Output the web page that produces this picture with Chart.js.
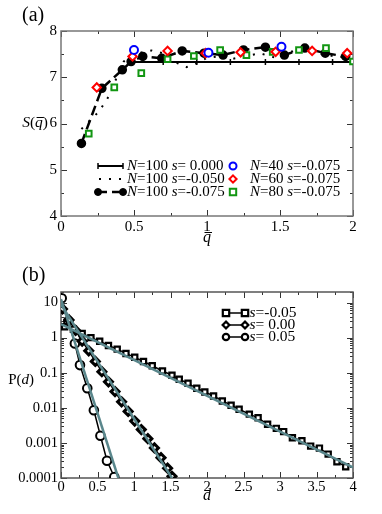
<!DOCTYPE html>
<html><head><meta charset="utf-8">
<script src="https://cdn.jsdelivr.net/npm/chart.js@4.4.1/dist/chart.umd.min.js"></script>
<style>
html,body{margin:0;padding:0;background:#fff;width:382px;height:514px;overflow:hidden;}
canvas{position:absolute;left:0;}
#ca{top:0;} #cb{top:250px;}
</style></head><body>
<canvas id="ca" width="382" height="250"></canvas>
<canvas id="cb" width="382" height="264"></canvas>
<script>
// ---------- Panel (a) data ----------
const qSolid  = [0.46, 0.70, 0.93, 1.16, 1.40, 1.63, 1.86, 2.00];
const sSolid  = [7.33, 7.33, 7.33, 7.33, 7.33, 7.33, 7.33, 7.33];
const qDotted = [0.14, 0.26, 0.32, 0.43, 0.50, 0.62, 0.72, 0.80, 0.86, 0.93, 1.00, 1.08, 1.16, 1.26, 1.36, 1.46, 1.56, 1.66, 1.76, 1.86, 1.96];
const sDotted = [5.88, 6.26, 6.55, 7.34, 7.50, 7.58, 7.50, 7.30, 7.22, 7.30, 7.42, 7.45, 7.39, 7.45, 7.52, 7.43, 7.55, 7.58, 7.52, 7.46, 7.42];
const qDashed = [0.14, 0.28, 0.42, 0.48, 0.56, 0.69, 0.83, 0.98, 1.11, 1.25, 1.40, 1.53, 1.67, 1.81, 1.95];
const sDashed = [5.57, 6.76, 7.16, 7.34, 7.45, 7.41, 7.57, 7.52, 7.48, 7.59, 7.65, 7.48, 7.63, 7.52, 7.45];
const qN40 = [0.50, 1.01, 1.51];
const sN40 = [7.59, 7.53, 7.66];
const qN60 = [0.245, 0.49, 0.73, 0.99, 1.23, 1.47, 1.72, 1.96];
const sN60 = [6.78, 7.45, 7.57, 7.52, 7.54, 7.55, 7.57, 7.52];
const qN80 = [0.19, 0.365, 0.55, 0.73, 0.91, 1.09, 1.27, 1.45, 1.63, 1.815, 2.00];
const sN80 = [5.78, 6.78, 7.09, 7.39, 7.46, 7.59, 7.48, 7.55, 7.59, 7.63, 7.34];
const xTicksA = [0, 0.5, 1, 1.5, 2];
const yTicksA = [4, 5, 6, 7, 8];
const legendA = ["N=100 s= 0.000", "N=100 s=-0.050", "N=100 s=-0.075", "N=40 s=-0.075", "N=60 s=-0.075", "N=80 s=-0.075"];

// ---------- Panel (b) data ----------
const dSq = [0.05,0.17,0.29,0.41,0.53,0.65,0.77,0.89,1.01,1.13,1.25,1.39,1.52,1.62,1.74,1.86,1.97,2.09,2.21,2.33,2.44,2.58,2.70,2.83,2.95,3.05,3.17,3.30,3.42,3.54,3.66,3.78,3.90];
const pSq = [2.04,1.74,1.32,1.0,0.79,0.60,0.47,0.355,0.275,0.209,0.158,0.112,0.085,0.065,0.050,0.036,0.0284,0.0218,0.0157,0.0119,0.0091,0.0066,0.0052,0.0034,0.0026,0.0021,0.0014,0.00115,0.00081,0.00071,0.00048,0.00029,0.00021];
const dDi = [0.02,0.11,0.20,0.29,0.38,0.47,0.56,0.65,0.74,0.83,0.92,1.01,1.10,1.19,1.28,1.37,1.46,1.52];
const pDi = [6.6,3.2,1.6,0.79,0.42,0.21,0.107,0.055,0.029,0.0148,0.0079,0.0042,0.0024,0.00132,0.00072,0.00038,0.00019,0.000112];
const dCi = [0.01,0.10,0.19,0.26,0.36,0.45,0.54,0.63,0.73];
const pCi = [13.2,3.0,0.68,0.165,0.036,0.0085,0.0016,0.00031,0.000107];
const dFitSq = [0, 4];     const pFitSq = [2.43, 0.0002];
const dFitDi = [0, 1.52];  const pFitDi = [8.9, 0.0001];
const dFitCi = [0, 0.785]; const pFitCi = [12.6, 0.0001];
const xTicksB = [0,0.5,1,1.5,2,2.5,3,3.5,4];
const yTicksB = [0.0001,0.001,0.01,0.1,1,10];
const legendB = ["s=-0.05", "s= 0.00", "s= 0.05"];

// ---------- helpers ----------
const FF = '"Liberation Serif","Times New Roman",serif';
const GRAY = '#5a878c';
function pts(xs, ys){ return xs.map((x,i)=>({x:x, y:ys[i]})); }
function parseRich(str){ // letters italic, the rest roman
  const out=[]; let cur=null;
  for(const ch of str){ const it=/[A-Za-z]/.test(ch);
    if(cur && cur[1]===it) cur[0]+=ch; else { cur=[ch,it]; out.push(cur);} }
  return out;
}
function drawRich(ctx, parts, x, y, size, align){
  const w = parts.map(p=>{ ctx.font=(p[1]?'italic ':'')+size+'px '+FF; return ctx.measureText(p[0]).width; });
  const tot = w.reduce((a,b)=>a+b,0);
  let cx = align==='center'? x-tot/2 : (align==='right'? x-tot : x);
  ctx.textBaseline='middle'; ctx.textAlign='left'; ctx.fillStyle='#000';
  parts.forEach((p,i)=>{
    ctx.font=(p[1]?'italic ':'')+size+'px '+FF;
    ctx.fillText(p[0], cx, y);
    if(p[2]){ ctx.save(); ctx.strokeStyle='#000'; ctx.lineWidth=1; ctx.beginPath();
      const yy = Math.round(y-size*0.36)+0.5;
      ctx.moveTo(cx+1.5, yy); ctx.lineTo(cx+w[i]+1, yy); ctx.stroke(); ctx.restore(); }
    cx += w[i];
  });
}
function marker(ctx, style, x, y, r, color, fill, lw){
  ctx.save(); ctx.strokeStyle=color; ctx.fillStyle=fill; ctx.lineWidth=lw; ctx.beginPath();
  if(style==='circle'){ ctx.arc(x,y,r,0,Math.PI*2); ctx.fill(); ctx.stroke(); }
  else if(style==='rect'){ ctx.rect(x-r,y-r,2*r,2*r); ctx.fill(); ctx.stroke(); }
  else if(style==='rectRot'){ ctx.moveTo(x,y-r*1.2); ctx.lineTo(x+r*1.2,y); ctx.lineTo(x,y+r*1.2); ctx.lineTo(x-r*1.2,y); ctx.closePath(); ctx.fill(); ctx.stroke(); }
  else if(style==='cross'){ ctx.moveTo(x,y-r); ctx.lineTo(x,y+r); ctx.stroke(); }
  ctx.restore();
}
function frameTicks(chart, o){
  const ctx=chart.ctx, a=chart.chartArea, xs=chart.scales.x, ys=chart.scales.y;
  ctx.save();
  ctx.strokeStyle='#333'; ctx.lineWidth=1;
  const tick=(v,len,axis)=>{
    ctx.beginPath();
    if(axis==='x'){ const p=Math.round(xs.getPixelForValue(v))+0.5;
      ctx.moveTo(p,a.bottom); ctx.lineTo(p,a.bottom-len); ctx.moveTo(p,a.top); ctx.lineTo(p,a.top+len); }
    else { const p=Math.round(ys.getPixelForValue(v))+0.5;
      ctx.moveTo(a.left,p); ctx.lineTo(a.left+len,p); ctx.moveTo(a.right,p); ctx.lineTo(a.right-len,p); }
    ctx.stroke();
  };
  o.xMajor.forEach(v=>tick(v,6,'x')); o.xMinor.forEach(v=>tick(v,3,'x'));
  o.yMajor.forEach(v=>tick(v,6,'y')); o.yMinor.forEach(v=>tick(v,3,'y'));
  ctx.strokeStyle=o.frame||'#666'; ctx.lineWidth=1.5;
  ctx.strokeRect(a.left, a.top, a.right-a.left, a.bottom-a.top);
  ctx.restore();
}
const fmt = v => String(v);

// ---------- Chart (a) ----------
const fontA = {family:FF, size:15};
const plugA = {
  id:'decoA',
  beforeDatasetsDraw(chart){
    frameTicks(chart,{xMajor:xTicksA, xMinor:[0.25,0.75,1.25,1.75], yMajor:yTicksA, yMinor:[4.5,5.5,6.5,7.5], frame:'#777'});
  },
  afterDraw(chart){
    const ctx=chart.ctx;
    drawRich(ctx, [['(a)',false]], 22, 16, 20, 'left');
    drawRich(ctx, [['S',true],['(',false],['q',true,true],[')',false]], 48, 123, 15.5, 'right');
    drawRich(ctx, [['q',true,true]], 207, 238, 16, 'center');
    // legend
    const rows=[166,179,192], fs=15;
    ctx.save();
    ctx.strokeStyle='#000'; ctx.lineWidth=2; ctx.beginPath(); ctx.moveTo(98,rows[0]); ctx.lineTo(123,rows[0]); ctx.stroke();
    marker(ctx,'cross',98,rows[0],3,'#000','#000',1.5); marker(ctx,'cross',123,rows[0],3,'#000','#000',1.5);
    ctx.setLineDash([2,8]); ctx.lineWidth=2; ctx.beginPath(); ctx.moveTo(99,rows[1]); ctx.lineTo(124,rows[1]); ctx.stroke(); ctx.setLineDash([]);
    ctx.setLineDash([9,5]); ctx.lineWidth=2.5; ctx.beginPath(); ctx.moveTo(98,rows[2]); ctx.lineTo(123,rows[2]); ctx.stroke(); ctx.setLineDash([]);
    marker(ctx,'circle',98,rows[2],3.5,'#000','#000',1); marker(ctx,'circle',123,rows[2],3.5,'#000','#000',1);
    ctx.restore();
    for(let i=0;i<3;i++) drawRich(ctx, parseRich(legendA[i]), 127, rows[i], fs, 'left');
    marker(ctx,'circle',233,rows[0],3.5,'#0000ff','#fff',2);
    marker(ctx,'rectRot',233,rows[1],3,'#ff0000','#fff',2);
    marker(ctx,'rect',233,rows[2],3.2,'#129612','#fff',2);
    for(let i=3;i<6;i++) drawRich(ctx, parseRich(legendA[i]), 250, rows[i-3], fs, 'left');
  }
};
new Chart(document.getElementById('ca'), {
  type:'scatter',
  data:{datasets:[
    {label:legendA[3], data:pts(qN40,sN40), showLine:false, pointStyle:'circle', pointRadius:4, borderColor:'#0000ff', backgroundColor:'#fff', borderWidth:2, order:1},
    {label:legendA[4], data:pts(qN60,sN60), showLine:false, pointStyle:'rectRot', pointRadius:4.2, borderColor:'#ff0000', backgroundColor:'#fff', borderWidth:2, order:1},
    {label:legendA[5], data:pts(qN80,sN80), showLine:false, pointStyle:'rect', pointRadius:4, borderColor:'#129612', backgroundColor:'#fff', borderWidth:2, order:1},
    {label:legendA[0], data:pts(qSolid,sSolid), showLine:true, borderColor:'#000', borderWidth:2, pointStyle:'line', rotation:90, pointRadius:3, pointBorderWidth:1.5, pointBorderColor:'#000', order:2},
    {label:legendA[1], data:pts(qDotted,sDotted), showLine:true, borderColor:'#000', borderWidth:2, borderDash:[2,8], pointRadius:0, order:2},
    {label:legendA[2], data:pts(qDashed,sDashed), showLine:true, borderColor:'#000', borderWidth:2.5, borderDash:[10,5], pointStyle:'circle', pointRadius:3.5, backgroundColor:'#000', pointBackgroundColor:'#000', pointBorderColor:'#000', order:2}
  ]},
  options:{
    responsive:false, animation:false, devicePixelRatio:1,
    layout:{padding:{top:31,right:29,left:0,bottom:0}},
    plugins:{legend:{display:false}, tooltip:{enabled:false}},
    scales:{
      x:{type:'linear', min:0, max:2, grid:{display:false, drawTicks:false}, border:{display:false},
        afterBuildTicks:s=>{s.ticks=xTicksA.map(v=>({value:v}));},
        ticks:{font:fontA, color:'#000', padding:2, maxRotation:0, autoSkip:false, callback:fmt},
        afterFit:s=>{s.height=34;}},
      y:{type:'linear', min:4, max:8, grid:{display:false, drawTicks:false}, border:{display:false},
        afterBuildTicks:s=>{s.ticks=yTicksA.map(v=>({value:v}));},
        ticks:{font:fontA, color:'#000', padding:4, autoSkip:false, callback:fmt},
        afterFit:s=>{s.width=61;}}
    }
  },
  plugins:[plugA]
});

// ---------- Chart (b) ----------
const fontB = {family:FF, size:14.5};
const minorB = [];
for(let e=-4;e<=1;e++) for(let m=2;m<=9;m++){ const v=m*Math.pow(10,e); if(v<=20) minorB.push(v); }
const plugB = {
  id:'decoB',
  beforeDatasetsDraw(chart){
    frameTicks(chart,{xMajor:xTicksB, xMinor:[0.25,0.75,1.25,1.75,2.25,2.75,3.25,3.75], yMajor:yTicksB, yMinor:minorB, frame:'#555'});
  },
  afterDraw(chart){
    const ctx=chart.ctx;
    drawRich(ctx, [['(b)',false]], 22, 26, 20, 'left');
    drawRich(ctx, [['P(',false],['d',true],[')',false]], 34, 130, 15, 'right');
    drawRich(ctx, [['d',true]], 207, 246, 16, 'center');
    const rows=[63,75,87], st=['rect','rectRot','circle'];
    for(let i=0;i<3;i++){
      ctx.save(); ctx.strokeStyle='#000'; ctx.lineWidth=1.5; ctx.beginPath(); ctx.moveTo(226,rows[i]); ctx.lineTo(245,rows[i]); ctx.stroke(); ctx.restore();
      const r = st[i]==='rectRot'?2.8:3.2;
      marker(ctx,st[i],226,rows[i],r,'#000','#fff',2.2); marker(ctx,st[i],245,rows[i],r,'#000','#fff',2.2);
      drawRich(ctx, parseRich(legendB[i]), 249.5, rows[i], 15.5, 'left');
    }
  }
};
new Chart(document.getElementById('cb'), {
  type:'scatter',
  data:{datasets:[
    {label:'fit1', data:pts(dFitSq,pFitSq), showLine:true, borderColor:GRAY, borderWidth:2.5, pointRadius:0, order:0},
    {label:'fit2', data:pts(dFitDi,pFitDi), showLine:true, borderColor:GRAY, borderWidth:2.5, pointRadius:0, order:0},
    {label:'fit3', data:pts(dFitCi,pFitCi), showLine:true, borderColor:GRAY, borderWidth:2.5, pointRadius:0, order:0},
    {label:legendB[0], data:pts(dSq,pSq), showLine:true, borderColor:'#000', borderWidth:1.5, pointStyle:'rect', pointRadius:3.7, pointBorderWidth:2.2, pointBackgroundColor:'#fff', pointBorderColor:'#000', order:1},
    {label:legendB[1], data:pts(dDi,pDi), showLine:true, borderColor:'#000', borderWidth:1.5, pointStyle:'rectRot', pointRadius:4, pointBorderWidth:3, pointBackgroundColor:'#fff', pointBorderColor:'#000', order:1},
    {label:legendB[2], data:pts(dCi,pCi), showLine:true, borderColor:'#000', borderWidth:1.5, pointStyle:'circle', pointRadius:4.3, pointBorderWidth:2, pointBackgroundColor:'#fff', pointBorderColor:'#000', order:1}
  ]},
  options:{
    responsive:false, animation:false, devicePixelRatio:1,
    layout:{padding:{top:42,right:29,left:0,bottom:0}},
    plugins:{legend:{display:false}, tooltip:{enabled:false}},
    scales:{
      x:{type:'linear', min:0, max:4, grid:{display:false, drawTicks:false}, border:{display:false},
        afterBuildTicks:s=>{s.ticks=xTicksB.map(v=>({value:v}));},
        ticks:{font:fontB, color:'#000', padding:0, maxRotation:0, autoSkip:false, callback:fmt},
        afterFit:s=>{s.height=36;}},
      y:{type:'logarithmic', min:0.0001, max:20, grid:{display:false, drawTicks:false}, border:{display:false},
        afterBuildTicks:s=>{s.ticks=yTicksB.map(v=>({value:v}));},
        ticks:{font:fontB, color:'#000', padding:3, autoSkip:false, callback:fmt},
        afterFit:s=>{s.width=61;}}
    }
  },
  plugins:[plugB]
});
</script>
</body></html>
